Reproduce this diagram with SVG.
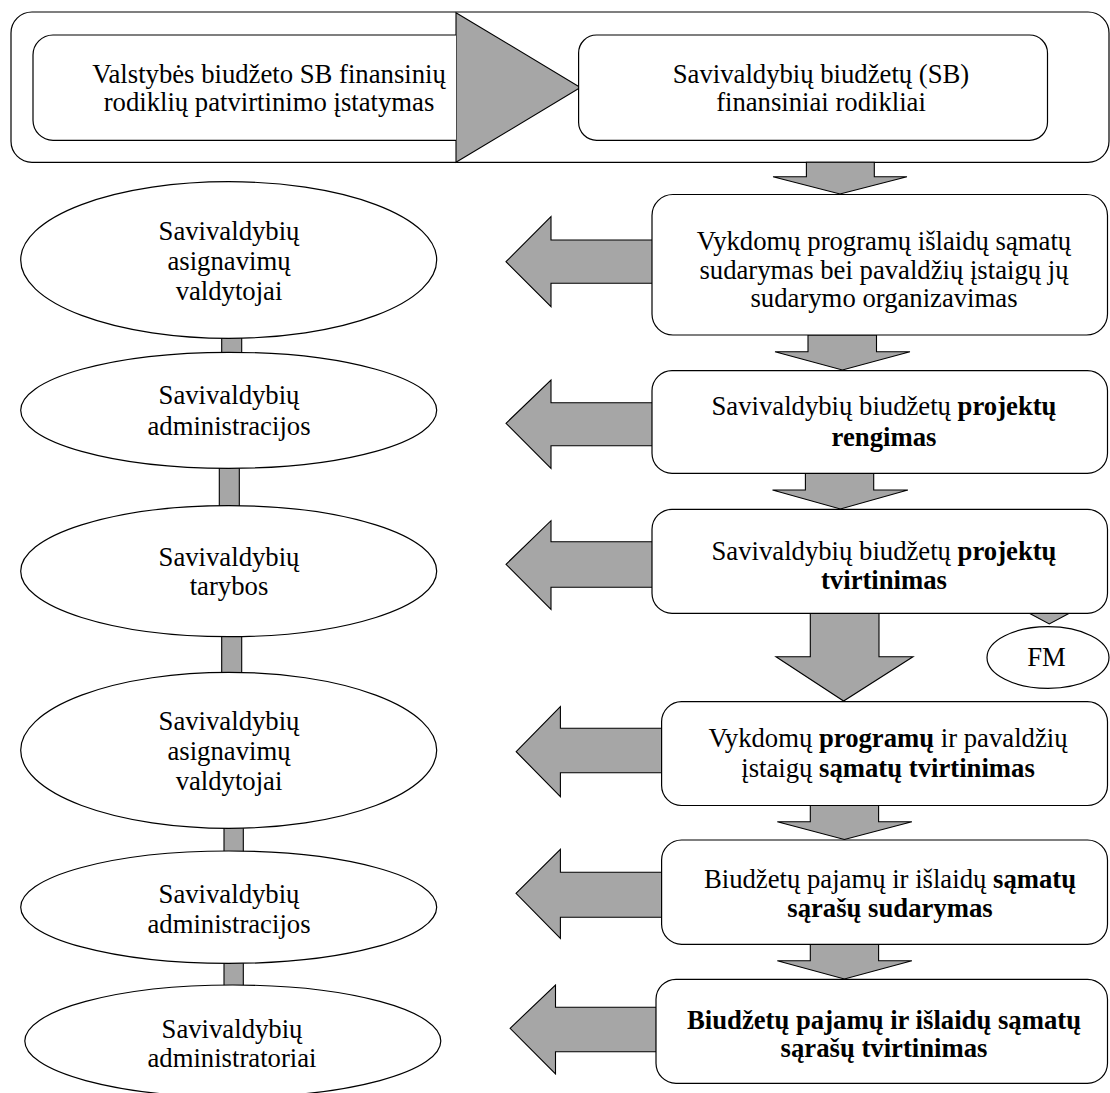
<svg xmlns="http://www.w3.org/2000/svg" width="1110" height="1093" viewBox="0 0 1110 1093">
<style>
.box{fill:#fff;stroke:#000;stroke-width:1.2}
.ell{fill:#fff;stroke:#000;stroke-width:1.2}
.arr{fill:#a6a6a6;stroke:#000;stroke-width:1.1;stroke-linejoin:miter}
.t{font-family:"Liberation Serif","Times New Roman",serif;font-size:26.7px;fill:#000;text-anchor:middle}
.b{font-weight:bold}
</style>
<rect width="1110" height="1093" fill="#fff"/>
<g id="frame">
<rect class="box" x="11" y="12" width="1098" height="150.3" rx="21" ry="21"/>
</g>
<g id="connectors">
<polygon class="arr" points="456,12.7 580.4,87.5 456,162.3"/>
<polygon class="arr" points="806.4,162.3 874.3,162.3 874.3,176.7 907,176.7 840,194 773,176.7 806.4,176.7"/>
<polygon class="arr" points="808,335 876.5,335 876.5,351.7 910,351.7 842.4,370 775,351.7 808,351.7"/>
<polygon class="arr" points="805.4,473.3 873.7,473.3 873.7,490 907.9,490 840.4,509 772.5,490 805.4,490"/>
<polygon class="arr" points="810.3,613.3 879,613.3 879,656.7 913,656.7 843.6,701 776,656.7 810.3,656.7"/>
<polygon class="arr" points="810.3,805.5 878.6,805.5 878.6,821.7 911.9,821.7 844.4,839.5 777.3,821.7 810.3,821.7"/>
<polygon class="arr" points="810.3,944.3 878.6,944.3 878.6,960.7 911.9,960.7 844.4,979 777.3,960.7 810.3,960.7"/>
<polygon class="arr" points="1029.3,613.3 1069.3,613.3 1049.3,624"/>
<polygon class="arr" points="506,261.7 551,216.7 551,240 653,240 653,283.3 551,283.3 551,306.7"/>
<polygon class="arr" points="506,423.3 551,380 551,402.7 653,402.7 653,445.7 551,445.7 551,468.3"/>
<polygon class="arr" points="506,564.3 551,520.7 551,541.7 653,541.7 653,587.3 551,587.3 551,609.3"/>
<polygon class="arr" points="516.2,751.7 560.4,706.7 560.4,728.3 662,728.3 662,772.7 560.4,772.7 560.4,796.7"/>
<polygon class="arr" points="516,893.3 560.4,849.3 560.4,872.3 662,872.3 662,917.3 560.4,917.3 560.4,938.3"/>
<polygon class="arr" points="510.1,1028.3 555.5,985 555.5,1007.3 656.5,1007.3 656.5,1051.7 555.5,1051.7 555.5,1074"/>
<rect class="arr" x="221.7" y="336" width="20" height="18"/>
<rect class="arr" x="219.3" y="466" width="20" height="42"/>
<rect class="arr" x="221.7" y="634" width="20" height="40"/>
<rect class="arr" x="224" y="826" width="19.3" height="27"/>
<rect class="arr" x="224" y="961" width="19.3" height="27"/>
</g>
<g id="n-valstybes">
<path class="box" d="M456,35 H53 A20,20 0 0 0 33,55 V120.3 A20,20 0 0 0 53,140.3 H456"/>
<text class="t" x="269" y="82.5">Valstybės biudžeto SB finansinių</text>
<text class="t" x="269" y="110.7">rodiklių patvirtinimo įstatymas</text>
</g>
<g id="n-rodikliai">
<rect class="box" x="578.6" y="35" width="468.9" height="105.3" rx="18" ry="18"/>
<text class="t" x="821" y="82.5">Savivaldybių biudžetų (SB)</text>
<text class="t" x="821" y="110.7">finansiniai rodikliai</text>
</g>
<g id="n-samatu-sudarymas">
<rect class="box" x="652" y="194.5" width="455.5" height="140.5" rx="21" ry="21"/>
<text class="t" x="884" y="250">Vykdomų programų išlaidų sąmatų</text>
<text class="t" x="884" y="278.5">sudarymas bei pavaldžių įstaigų jų</text>
<text class="t" x="884" y="307">sudarymo organizavimas</text>
</g>
<g id="n-projektu-rengimas">
<rect class="box" x="652" y="370.7" width="455.5" height="102.6" rx="20" ry="20"/>
<text class="t" x="884" y="415">Savivaldybių biudžetų <tspan class="b">projektų</tspan></text>
<text class="t b" x="884" y="446">rengimas</text>
</g>
<g id="n-projektu-tvirtinimas">
<rect class="box" x="652" y="509.3" width="455.5" height="104" rx="20" ry="20"/>
<text class="t" x="884" y="560">Savivaldybių biudžetų <tspan class="b">projektų</tspan></text>
<text class="t b" x="884" y="589">tvirtinimas</text>
</g>
<g id="n-fm">
<ellipse class="ell" cx="1048" cy="657.5" rx="61" ry="30.8"/>
<text class="t" x="1046.5" y="666">FM</text>
</g>
<g id="n-samatu-tvirtinimas">
<rect class="box" x="661.6" y="701.7" width="445.9" height="103.8" rx="20" ry="20"/>
<text class="t" x="888" y="747">Vykdomų <tspan class="b">programų</tspan> ir pavaldžių</text>
<text class="t" x="888" y="777">įstaigų <tspan class="b">sąmatų tvirtinimas</tspan></text>
</g>
<g id="n-sarasu-sudarymas">
<rect class="box" x="661.6" y="840" width="445.9" height="104.3" rx="20" ry="20"/>
<text class="t" x="890" y="888">Biudžetų pajamų ir išlaidų <tspan class="b">sąmatų</tspan></text>
<text class="t b" x="890" y="917">sąrašų sudarymas</text>
</g>
<g id="n-sarasu-tvirtinimas">
<rect class="box" x="656" y="979.3" width="451.5" height="104" rx="20" ry="20"/>
<text class="t b" x="884" y="1029">Biudžetų pajamų ir išlaidų sąmatų</text>
<text class="t b" x="884" y="1057">sąrašų tvirtinimas</text>
</g>
<g id="e-valdytojai-1">
<ellipse class="ell" cx="228.7" cy="260" rx="208" ry="78.3"/>
<text class="t" x="229" y="240">Savivaldybių</text>
<text class="t" x="229" y="270">asignavimų</text>
<text class="t" x="229" y="300">valdytojai</text>
</g>
<g id="e-administracijos-1">
<ellipse class="ell" cx="228.7" cy="410.3" rx="208" ry="58"/>
<text class="t" x="229" y="404">Savivaldybių</text>
<text class="t" x="229" y="435">administracijos</text>
</g>
<g id="e-tarybos">
<ellipse class="ell" cx="228.7" cy="571.2" rx="208" ry="65.5"/>
<text class="t" x="229" y="566">Savivaldybių</text>
<text class="t" x="229" y="595">tarybos</text>
</g>
<g id="e-valdytojai-2">
<ellipse class="ell" cx="228.7" cy="750.3" rx="208" ry="78"/>
<text class="t" x="229" y="730">Savivaldybių</text>
<text class="t" x="229" y="760">asignavimų</text>
<text class="t" x="229" y="790">valdytojai</text>
</g>
<g id="e-administracijos-2">
<ellipse class="ell" cx="228.7" cy="907.2" rx="208" ry="56.2"/>
<text class="t" x="229" y="902.5">Savivaldybių</text>
<text class="t" x="229" y="932.7">administracijos</text>
</g>
<g id="e-administratoriai">
<ellipse class="ell" cx="232.8" cy="1041" rx="208" ry="56"/>
<text class="t" x="232" y="1037.5">Savivaldybių</text>
<text class="t" x="232" y="1066.7">administratoriai</text>
</g>
</svg>
